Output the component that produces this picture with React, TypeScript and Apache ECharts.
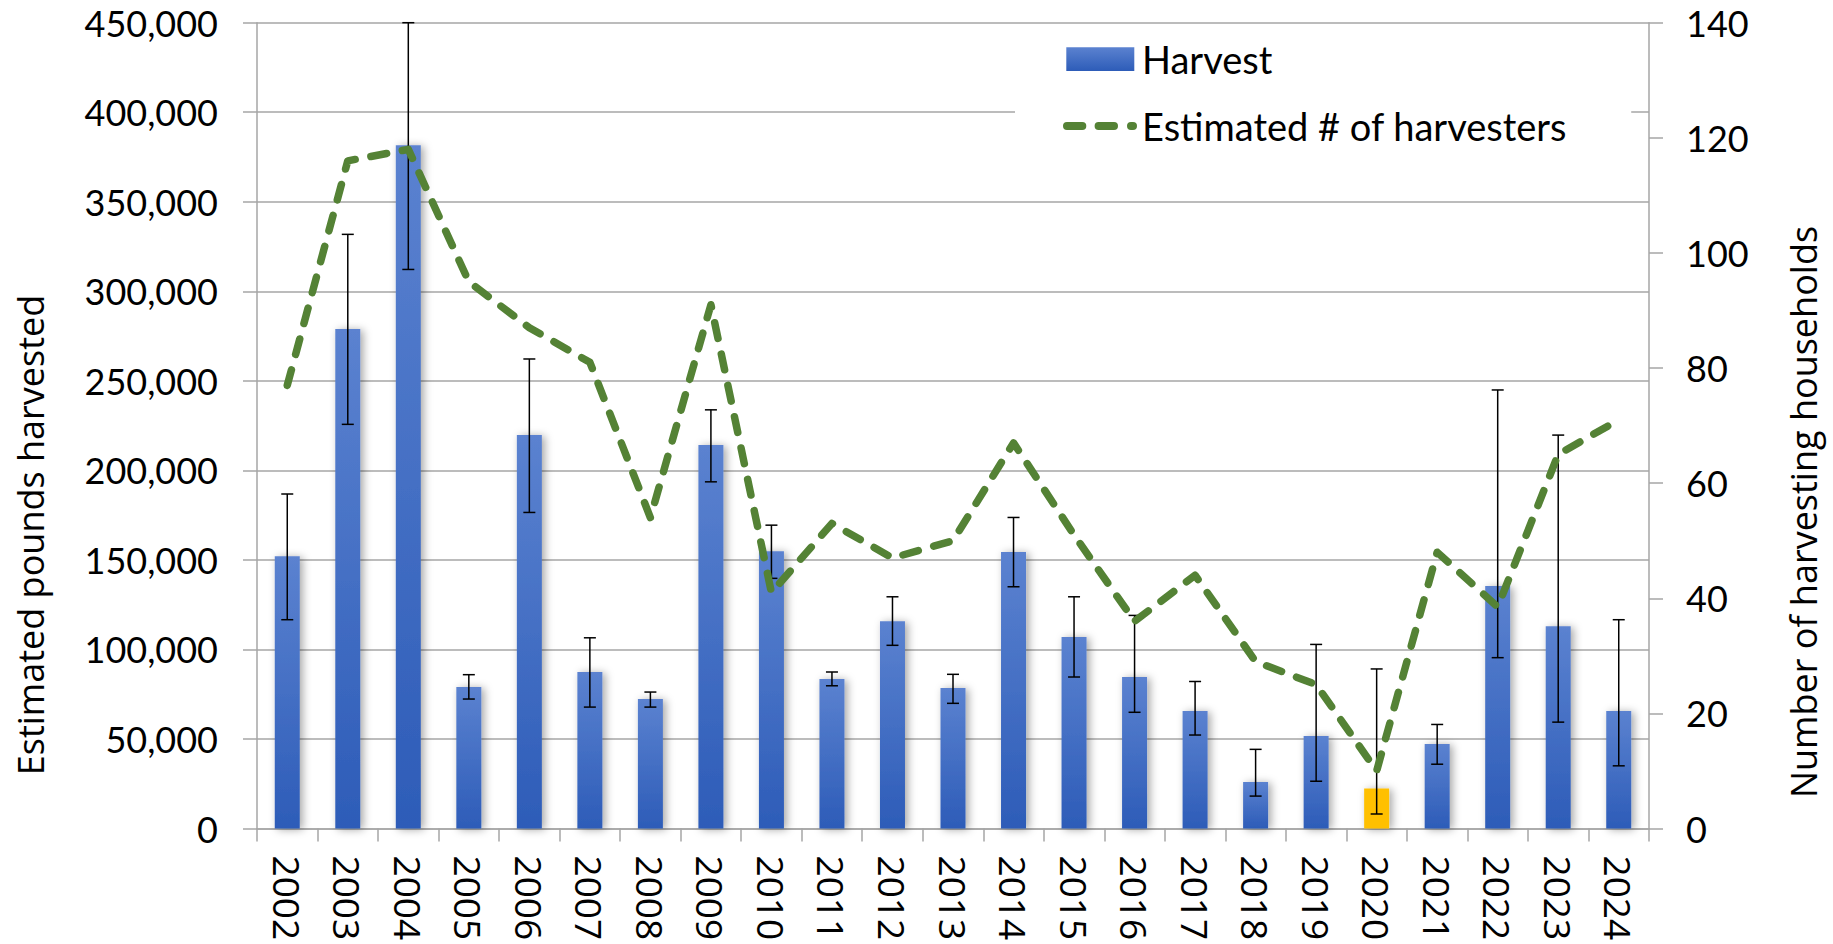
import React, { useEffect, useRef } from "react";
import * as echarts from "echarts";

const years = [
  "2002", "2003", "2004", "2005", "2006", "2007", "2008", "2009", "2010", "2011", "2012", "2013",
  "2014", "2015", "2016", "2017", "2018", "2019", "2020", "2021", "2022", "2023", "2024",
];
// Estimated pounds harvested (left axis)
const harvest = [
  152000, 279000, 381600, 79000, 219700, 87400, 72300, 214100, 154900, 83500, 115800, 78400,
  154400, 106900, 84600, 65600, 26000, 51600, 22400, 47200, 135400, 113000, 65600,
];
// Error bar bounds (lower / upper)
const harvestLow = [
  116600, 225700, 312200, 72300, 176500, 67800, 67800, 193600, 139700, 79700, 102300, 69900,
  135000, 84600, 64900, 52200, 18100, 26400, 8100, 35900, 95400, 59400, 35000,
];
const harvestHigh = [
  186800, 331800, 450000, 85900, 262200, 106500, 76200, 233800, 169400, 87400, 129400, 86100,
  173700, 129400, 119000, 82100, 44200, 102800, 89100, 58100, 244900, 219700, 116600,
];
// Estimated number of harvesting households (right axis)
const households = [
  77, 116, 118, 95, 87, 81, 54, 91, 41, 53, 47, 50, 67, 51, 36, 44, 29, 25, 10, 48, 38.5, 65, 71,
];
const highlightYear = "2020";
const leftAxisTitle = "Estimated pounds harvested";
const rightAxisTitle = "Number of harvesting households";

// Legend icons (74 x 24 boxes)
const barLegendIcon = "path://M0 0 M74 24 M3.3 0.3 L71.3 0.3 L71.3 24 L3.3 24 Z";
const lineLegendIcon =
  "path://M0 0 M74 24 " +
  "M4 8 L19.3 8 A4 4 0 0 1 19.3 16 L4 16 A4 4 0 0 1 4 8 Z " +
  "M35.6 8 L51 8 A4 4 0 0 1 51 16 L35.6 16 A4 4 0 0 1 35.6 8 Z " +
  "M68 8 L70 8 A4 4 0 0 1 70 16 L68 16 A4 4 0 0 1 68 8 Z";

export default function App() {
  const ref = useRef<HTMLDivElement>(null);

  useEffect(() => {
    const chart = echarts.init(ref.current as HTMLDivElement, null, { renderer: "svg" });
    const gray = "#A6A6A6";
    const blueGrad = new echarts.graphic.LinearGradient(0, 0, 0, 1, [
      { offset: 0, color: "#5B82D0" },
      { offset: 1, color: "#2D5CB8" },
    ]);
    const barData = harvest.map((v, i) =>
      years[i] === highlightYear ? { value: v, itemStyle: { color: "#FFC000" } } : v
    );
    const errData = years.map((_, i) => [i, harvestLow[i], harvestHigh[i]]);

    chart.setOption({
      animation: false,
      backgroundColor: "#fff",
      grid: { left: 257, right: 184, top: 22.7, bottom: 115.5, containLabel: false },
      legend: {
        data: [
          { name: "Harvest", icon: barLegendIcon },
          { name: "Estimated # of harvesters", icon: lineLegendIcon },
        ],
        orient: "vertical",
        left: 1015,
        top: 27,
        padding: [12, 64, 20, 48],
        backgroundColor: "#fff",
        itemWidth: 74,
        itemHeight: 24,
        itemGap: 27,
        itemStyle: { borderWidth: 0 },
        textStyle: { fontFamily: "Lato", fontSize: 38, color: "#000", lineHeight: 40 },
      },
      xAxis: {
        type: "category",
        data: years,
        boundaryGap: true,
        axisLine: { show: true, lineStyle: { color: gray, width: 1.5 } },
        axisTick: { show: true, length: 13, interval: 0, alignWithLabel: false, lineStyle: { color: gray, width: 1.5 } },
        axisLabel: { interval: 0, rotate: -90, margin: 27, color: "#000", fontFamily: "Open Sans", fontSize: 37 },
        splitLine: { show: false },
      },
      yAxis: [
        {
          type: "value",
          min: 0,
          max: 450000,
          interval: 50000,
          axisLine: { show: true, lineStyle: { color: gray, width: 1.5 } },
          axisTick: { show: true, length: 14, lineStyle: { color: gray, width: 1.5 } },
          axisLabel: {
            margin: 39,
            color: "#000",
            fontFamily: "Lato",
            fontSize: 36,
            formatter: (v: number) => v.toLocaleString("en-US"),
          },
          splitLine: { show: true, lineStyle: { color: gray, width: 1.5 } },
        },
        {
          type: "value",
          min: 0,
          max: 140,
          interval: 20,
          position: "right",
          axisLine: { show: true, lineStyle: { color: gray, width: 1.5 } },
          axisTick: { show: true, length: 14, lineStyle: { color: gray, width: 1.5 } },
          axisLabel: { margin: 37, color: "#000", fontFamily: "Lato", fontSize: 36 },
          splitLine: { show: false },
        },
      ],
      series: [
        {
          name: "Harvest",
          type: "bar",
          data: barData,
          barWidth: 25,
          itemStyle: {
            color: blueGrad,
            shadowColor: "rgba(0,0,0,0.35)",
            shadowBlur: 8,
            shadowOffsetX: 3,
            shadowOffsetY: 1,
          },
          z: 2,
        },
        {
          name: "Error",
          type: "custom",
          data: errData,
          encode: { x: 0, y: [1, 2] },
          z: 3,
          renderItem: (params: any, api: any) => {
            const x = api.value(0);
            const lo = api.coord([x, api.value(1)]);
            const hi = api.coord([x, api.value(2)]);
            const cw = 6;
            const style = { stroke: "#000", lineWidth: 1.5 };
            return {
              type: "group",
              children: [
                { type: "line", shape: { x1: lo[0], y1: lo[1], x2: hi[0], y2: hi[1] }, style },
                { type: "line", shape: { x1: lo[0] - cw, y1: lo[1], x2: lo[0] + cw, y2: lo[1] }, style },
                { type: "line", shape: { x1: hi[0] - cw, y1: hi[1], x2: hi[0] + cw, y2: hi[1] }, style },
              ],
            };
          },
        },
        {
          name: "Estimated # of harvesters",
          type: "line",
          yAxisIndex: 1,
          data: households,
          symbol: "none",
          lineStyle: { color: "#548235", width: 7.5, type: [16, 16], cap: "round", join: "round" },
          itemStyle: { color: "#548235" },
          z: 4,
        },
      ],
      graphic: [
        {
          type: "text",
          x: 30,
          y: 535,
          rotation: Math.PI / 2,
          style: {
            text: leftAxisTitle,
            fill: "#000",
            fontFamily: "Open Sans",
            fontSize: 36,
            align: "center",
            verticalAlign: "middle",
            textAlign: "center",
            textVerticalAlign: "middle",
          },
        },
        {
          type: "text",
          x: 1803,
          y: 512,
          rotation: Math.PI / 2,
          style: {
            text: rightAxisTitle,
            fill: "#000",
            fontFamily: "Open Sans",
            fontSize: 36,
            align: "center",
            verticalAlign: "middle",
            textAlign: "center",
            textVerticalAlign: "middle",
          },
        },
      ],
    });
    return () => chart.dispose();
  }, []);

  return (
    <div
      ref={ref}
      style={{ position: "fixed", left: 0, top: 0, width: 1833, height: 944, background: "#fff" }}
    />
  );
}
